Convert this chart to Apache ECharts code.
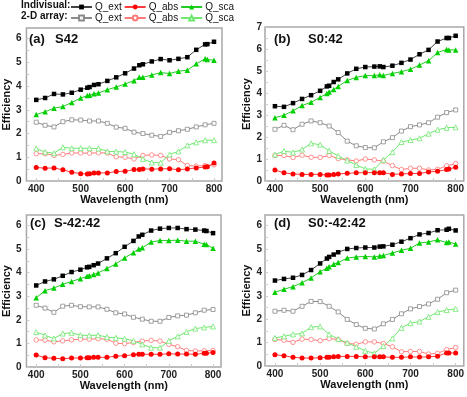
<!DOCTYPE html>
<html>
<head>
<meta charset="utf-8">
<script src="https://cdn.jsdelivr.net/npm/echarts@6/dist/echarts.min.js"></script>
<style>
html, body { margin: 0; padding: 0; background: #fff; }
#chart { width: 467px; height: 397px; }
</style>
</head>
<body>
<div id="chart"></div>
<script>
// wavelengths (nm)
const xInd = [400, 420, 440, 460, 480, 500, 515, 520, 530, 540, 560, 580, 600, 620, 632, 640, 660, 680, 700, 720, 740, 760, 780, 785, 800]
const xArr = [400, 420, 440, 460, 480, 500, 520, 540, 560, 580, 600, 620, 640, 660, 680, 700, 720, 740, 760, 780, 800]

// (a) S42
const aExt = [3.42, 3.5, 3.67, 3.65, 3.72, 3.85, 3.93, 3.96, 4.05, 4.08, 4.22, 4.37, 4.54, 4.74, 4.88, 4.92, 5.04, 5.14, 5.09, 5.15, 5.22, 5.53, 5.76, 5.77, 5.87]
const aAbs = [0.57, 0.54, 0.55, 0.47, 0.37, 0.31, 0.3, 0.31, 0.34, 0.34, 0.34, 0.4, 0.41, 0.48, 0.48, 0.51, 0.5, 0.51, 0.52, 0.47, 0.51, 0.55, 0.59, 0.6, 0.76]
const aSca = [2.8, 2.92, 3.07, 3.14, 3.31, 3.5, 3.6, 3.61, 3.68, 3.71, 3.85, 3.96, 4.09, 4.23, 4.37, 4.37, 4.47, 4.57, 4.53, 4.63, 4.67, 4.94, 5.15, 5.12, 5.09]
const aArrExt = [2.48, 2.35, 2.28, 2.5, 2.58, 2.57, 2.53, 2.53, 2.43, 2.27, 2.22, 2.06, 2.0, 1.93, 1.88, 2.05, 2.12, 2.18, 2.28, 2.37, 2.43]
const aArrAbs = [1.15, 1.15, 1.08, 1.12, 1.18, 1.18, 1.17, 1.19, 1.18, 1.02, 1.0, 0.93, 1.08, 1.1, 1.08, 0.93, 0.9, 0.65, 0.63, 0.65, 0.68]
const aArrSca = [1.37, 1.22, 1.17, 1.42, 1.38, 1.38, 1.38, 1.37, 1.25, 1.24, 1.22, 1.13, 0.93, 0.78, 0.77, 1.12, 1.25, 1.5, 1.63, 1.72, 1.72]

// (b) S0:42
const bExt = [3.4, 3.37, 3.54, 3.73, 3.9, 4.1, 4.3, 4.33, 4.5, 4.62, 4.89, 5.1, 5.18, 5.2, 5.21, 5.18, 5.24, 5.37, 5.52, 5.76, 5.96, 6.34, 6.5, 6.5, 6.6]
const bAbs = [0.5, 0.37, 0.32, 0.3, 0.3, 0.3, 0.27, 0.27, 0.3, 0.32, 0.35, 0.37, 0.38, 0.38, 0.38, 0.38, 0.3, 0.32, 0.34, 0.34, 0.41, 0.44, 0.52, 0.55, 0.62]
const bSca = [2.88, 2.99, 3.19, 3.43, 3.58, 3.8, 3.98, 4.04, 4.16, 4.3, 4.57, 4.71, 4.79, 4.79, 4.83, 4.8, 4.89, 4.97, 5.08, 5.27, 5.47, 5.84, 5.98, 5.96, 5.96]
const bArrExt = [2.35, 2.53, 2.33, 2.58, 2.73, 2.65, 2.5, 2.2, 1.81, 1.6, 1.52, 1.51, 1.78, 1.97, 2.27, 2.47, 2.55, 2.65, 2.9, 3.11, 3.23]
const bArrAbs = [1.16, 1.16, 1.07, 1.17, 1.08, 1.07, 1.16, 1.02, 0.96, 0.91, 1.0, 0.96, 0.9, 0.7, 0.52, 0.58, 0.58, 0.5, 0.53, 0.69, 0.79]
const bArrSca = [1.2, 1.36, 1.3, 1.43, 1.71, 1.65, 1.37, 1.14, 0.93, 0.73, 0.55, 0.53, 0.96, 1.31, 1.77, 1.86, 1.94, 2.15, 2.33, 2.42, 2.44]

// (c) S-42:42
const cExt = [3.46, 3.63, 3.72, 3.87, 4.03, 4.13, 4.23, 4.25, 4.32, 4.39, 4.61, 4.83, 5.1, 5.35, 5.54, 5.61, 5.79, 5.87, 5.9, 5.9, 5.85, 5.83, 5.79, 5.77, 5.68]
const cAbs = [0.51, 0.39, 0.37, 0.35, 0.38, 0.38, 0.39, 0.39, 0.41, 0.41, 0.41, 0.46, 0.48, 0.52, 0.54, 0.54, 0.54, 0.54, 0.56, 0.55, 0.55, 0.54, 0.58, 0.58, 0.62]
const cSca = [2.94, 3.24, 3.35, 3.51, 3.63, 3.75, 3.85, 3.87, 3.93, 3.99, 4.18, 4.37, 4.63, 4.85, 5.01, 5.06, 5.3, 5.37, 5.37, 5.38, 5.34, 5.34, 5.21, 5.2, 5.04]
const cArrExt = [2.62, 2.5, 2.32, 2.58, 2.62, 2.56, 2.55, 2.55, 2.45, 2.3, 2.25, 2.11, 2.03, 1.94, 1.94, 2.1, 2.17, 2.2, 2.3, 2.41, 2.44]
const cArrAbs = [1.15, 1.14, 1.07, 1.11, 1.15, 1.18, 1.18, 1.2, 1.18, 1.01, 0.99, 1.04, 1.1, 1.13, 1.1, 0.96, 0.86, 0.7, 0.68, 0.69, 0.7]
const cArrSca = [1.48, 1.34, 1.21, 1.42, 1.45, 1.35, 1.34, 1.35, 1.27, 1.24, 1.2, 1.11, 0.96, 0.82, 0.82, 1.11, 1.3, 1.49, 1.63, 1.68, 1.72]

// (d) S0:-42:42
const dExt = [3.65, 3.72, 3.77, 3.89, 4.1, 4.38, 4.59, 4.66, 4.76, 4.86, 5.0, 5.04, 5.06, 5.06, 5.1, 5.11, 5.18, 5.31, 5.46, 5.62, 5.68, 5.8, 5.82, 5.86, 5.79]
const dAbs = [0.48, 0.44, 0.37, 0.34, 0.34, 0.35, 0.37, 0.37, 0.39, 0.41, 0.41, 0.41, 0.39, 0.39, 0.39, 0.39, 0.37, 0.37, 0.39, 0.38, 0.39, 0.42, 0.56, 0.56, 0.55]
const dSca = [3.15, 3.28, 3.39, 3.56, 3.76, 4.03, 4.18, 4.24, 4.35, 4.42, 4.61, 4.66, 4.68, 4.66, 4.7, 4.72, 4.83, 4.94, 5.03, 5.25, 5.3, 5.39, 5.27, 5.3, 5.21]
const dArrExt = [2.34, 2.38, 2.34, 2.55, 2.76, 2.75, 2.55, 2.31, 1.99, 1.77, 1.61, 1.58, 1.8, 1.99, 2.23, 2.44, 2.54, 2.65, 2.85, 3.13, 3.24]
const dArrAbs = [1.13, 1.1, 1.01, 1.15, 1.13, 1.08, 1.17, 1.13, 0.96, 0.93, 1.03, 1.03, 0.96, 0.82, 0.61, 0.62, 0.62, 0.51, 0.54, 0.7, 0.79]
const dArrSca = [1.2, 1.27, 1.35, 1.39, 1.66, 1.69, 1.35, 1.15, 0.99, 0.82, 0.65, 0.54, 0.85, 1.18, 1.63, 1.83, 1.9, 2.1, 2.3, 2.39, 2.44]

const xTicks = [400, 500, 600, 700, 800]
const xMinor = [400, 450, 500, 550, 600, 650, 700, 750, 800]
const panelTags = ["(a)", "(b)", "(c)", "(d)"]
const panelNames = ["S42", "S0:42", "S-42:42", "S0:-42:42"]
const yMax = [6.45, 7, 6.45, 6.45]

const panels = [
    [aExt, aAbs, aSca, aArrExt, aArrAbs, aArrSca],
    [bExt, bAbs, bSca, bArrExt, bArrAbs, bArrSca],
    [cExt, cAbs, cSca, cArrExt, cArrAbs, cArrSca],
    [dExt, dAbs, dSca, dArrExt, dArrAbs, dArrSca]
]

const font = "Liberation Sans, Arial, sans-serif"

// grid boxes: left, top, width, height
const boxes = [
    [21, 28, 201, 153],
    [265, 27, 200, 154],
    [22, 215, 199, 152],
    [265, 215, 201, 151]
]

// one style per curve: name, symbol, size, fill, line/border colour, border width
const styles = [
    ["ind_ext", "rect", 4.5, "#000", "#444", 0],
    ["ind_abs", "circle", 5, "#f00", "#ff3b3b", 0],
    ["ind_sca", "triangle", 5.5, "#00d000", "#22cc22", 0],
    ["arr_ext", "rect", 4, "#fff", "#8a8a8a", 0.8],
    ["arr_abs", "circle", 4.5, "#fff", "#ff7a7a", 0.8],
    ["arr_sca", "triangle", 5, "#fff", "#6ee86e", 0.8]
]

function range(a, b, s) {
    const out = []
    for (let v = a; v <= b + 1e-9; v += s) out.push(+v.toFixed(2))
    return out
}

const grid = boxes.map(b => ({
    left: b[0], top: b[1], width: b[2], height: b[3],
    show: true, borderColor: "#a8a8a8", borderWidth: 1.5, backgroundColor: "#fff"
}))

const xAxis = boxes.map((b, i) => ({
    type: "value", gridIndex: i, min: 378, max: 818,
    name: "Wavelength (nm)", nameLocation: "middle", nameGap: 13,
    nameTextStyle: { fontFamily: font, fontWeight: "bold", fontSize: 11, color: "#111" },
    axisLine: { show: false },
    axisTick: { show: true, inside: true, length: 3, customValues: xMinor, lineStyle: { color: "#ccc" } },
    axisLabel: { customValues: xTicks, margin: 3, fontFamily: font, fontWeight: "bold", fontSize: 10, color: "#222" },
    splitLine: { show: false }
}))

const yAxis = boxes.map((b, i) => ({
    type: "value", gridIndex: i, min: 0, max: yMax[i],
    name: "Efficiency", nameLocation: "middle", nameGap: i % 2 ? 11 : 10,
    nameTextStyle: { fontFamily: font, fontWeight: "bold", fontSize: 11, color: "#111" },
    axisLine: { show: false },
    axisTick: { show: true, inside: true, length: 3, customValues: range(0, Math.floor(yMax[i]), 0.5), lineStyle: { color: "#ccc" } },
    axisLabel: { customValues: range(0, Math.floor(yMax[i]), 1), margin: i % 2 ? 3 : 5, fontFamily: font, fontWeight: "bold", fontSize: 10, color: "#222" },
    splitLine: { show: false }
}))

const series = []
panels.forEach((sets, i) => {
    sets.forEach((vals, k) => {
        const st = styles[k]
        const xs = k < 3 ? xInd : xArr
        series.push({
            name: st[0], type: "line", xAxisIndex: i, yAxisIndex: i,
            symbol: st[1], symbolSize: st[2], showSymbol: true,
            itemStyle: { color: st[3], borderColor: st[4], borderWidth: st[5] },
            lineStyle: { color: st[4], width: 1 },
            z: k < 3 ? 3 : 2,
            animation: false,
            data: vals.map((v, j) => [xs[j], v])
        })
    })
})

const legendBase = {
    left: 70, padding: 0, itemWidth: 21, itemHeight: 6, itemGap: 2,
    textStyle: { fontFamily: font, fontSize: 10, color: "#111", padding: [0, 0, 0, -2] },
    formatter: n => "Q_" + n.split("_")[1]
}

const graphic = [
    { type: "text", left: 21, top: 0, style: { text: "Indivisual:", font: "bold 10px " + font, fill: "#111" } },
    { type: "text", left: 21, top: 11, style: { text: "2-D array:", font: "bold 10px " + font, fill: "#111" } }
]
const tagPos = [[29, 33, 55], [274, 33, 308], [30, 217, 54], [274, 217, 308]]
tagPos.forEach((p, i) => {
    graphic.push({ type: "text", left: p[0], top: p[1], z: 10, style: { text: panelTags[i], font: "bold 13px " + font, fill: "#111" } })
    graphic.push({ type: "text", left: p[2], top: p[1], z: 10, style: { text: panelNames[i], font: "bold 13px " + font, fill: "#111" } })
})

const chart = echarts.init(document.getElementById("chart"))
chart.setOption({
    animation: false,
    backgroundColor: "#fff",
    grid: grid,
    xAxis: xAxis,
    yAxis: yAxis,
    legend: [
        Object.assign({}, legendBase, { top: 2, data: ["ind_ext", "ind_abs", "ind_sca"] }),
        Object.assign({}, legendBase, { top: 13, data: ["arr_ext", "arr_abs", "arr_sca"] })
    ],
    graphic: graphic,
    series: series
})
</script>
</body>
</html>
